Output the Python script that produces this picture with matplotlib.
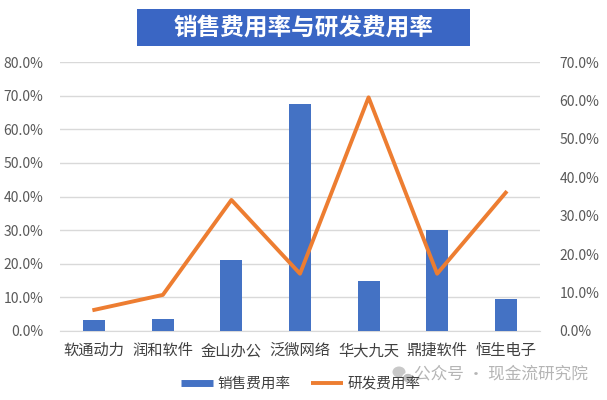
import matplotlib.pyplot as plt
import matplotlib.ticker as mtick
from matplotlib.lines import Line2D
from matplotlib.patches import Rectangle, Ellipse
import numpy as np

plt.rcParams['font.family'] = ['Noto Sans CJK SC', 'DejaVu Sans']

companies = ['软通动力', '润和软件', '金山办公', '泛微网络', '华大九天', '鼎捷软件', '恒生电子']
sales_rate = [3.2, 3.6, 21.0, 67.6, 14.9, 30.1, 9.5]
rd_rate = [5.5, 9.4, 34.1, 14.9, 60.8, 14.9, 36.0]

bar_color = '#4472C4'
line_color = '#ED7D31'
tick_color = '#595959'

fig = plt.figure(figsize=(6.07, 4.0), dpi=100)
ax = fig.add_axes([60 / 607, (400 - 331) / 400, 480 / 607, (331 - 62) / 400])
ax2 = ax.twinx()

x = np.arange(len(companies))
ax.bar(x, sales_rate, width=0.32, color=bar_color, zorder=3)
ax2.plot(x, rd_rate, color=line_color, linewidth=2.8, zorder=4)

ax.set_xlim(-0.5, len(companies) - 0.5)
ax.set_ylim(0, 80)
ax.set_yticks(np.arange(0, 81, 10))
ax2.set_ylim(0, 70)
ax2.set_yticks(np.arange(0, 71, 10))
fmt = mtick.FuncFormatter(lambda v, p: f'{v:.1f}%')
ax.yaxis.set_major_formatter(fmt)
ax2.yaxis.set_major_formatter(fmt)

ax.grid(axis='y', color='#D9D9D9', linewidth=1, zorder=0)
ax.set_xticks(x)
ax.set_xticklabels(companies, fontsize=11, color='#404040')
ax.tick_params(axis='x', length=0, pad=8)
ax.tick_params(axis='y', length=0, labelsize=10, labelcolor=tick_color, pad=12)
ax2.tick_params(axis='y', length=0, labelsize=10, labelcolor=tick_color, pad=14)

for a in (ax, ax2):
    for s in a.spines.values():
        s.set_visible(False)
ax.spines['bottom'].set_visible(True)
ax.spines['bottom'].set_color('#D9D9D9')

# title banner
fig.patches.append(Rectangle((137 / 607, 1 - 46 / 400), 333 / 607, 37 / 400,
                             transform=fig.transFigure, facecolor='#3A66C4',
                             edgecolor='none', zorder=1))
fig.text(303.5 / 607, 1 - 27.5 / 400, '销售费用率与研发费用率', ha='center', va='center',
         fontsize=17, fontweight='bold', color='white', zorder=2)

# watermark
fig.patches.append(Ellipse((399 / 607, 1 - 372 / 400), 13 / 607, 11 / 400,
                           transform=fig.transFigure, facecolor='#C8C8C8',
                           edgecolor='none', zorder=1))
fig.patches.append(Ellipse((408 / 607, 1 - 378 / 400), 11 / 607, 9.5 / 400,
                           transform=fig.transFigure, facecolor='#BEBEBE',
                           edgecolor='white', linewidth=0.8, zorder=1))
fig.text(588 / 607, 1 - 374 / 400, '公众号 · 现金流研究院', ha='right', va='center',
         fontsize=12, color='#B5B5B5', zorder=1)

handles = [Line2D([], [], color=bar_color, linewidth=5, solid_capstyle='butt'),
           Line2D([], [], color=line_color, linewidth=2.8, solid_capstyle='butt')]
leg = fig.legend(handles, ['销售费用率', '研发费用率'], loc='center',
                 bbox_to_anchor=(301 / 607, 1 - 384 / 400), ncol=2, frameon=False,
                 fontsize=10.5, handlelength=2.2, handletextpad=0.3, columnspacing=1.4,
                 labelcolor='#404040')
leg.set_zorder(3)

fig.savefig('out.png', dpi=100)
